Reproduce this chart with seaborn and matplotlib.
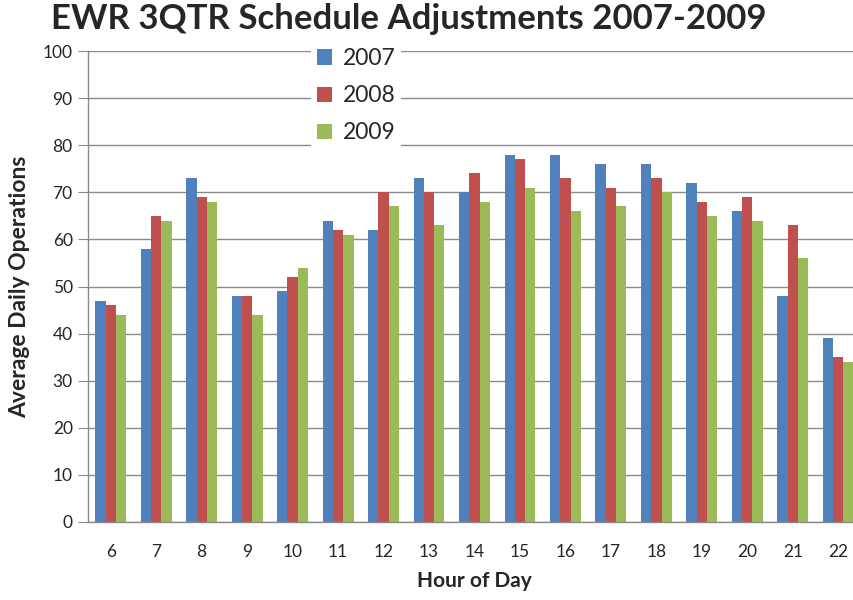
import pandas as pd
import matplotlib.pyplot as plt
import seaborn as sns

# data
hours = [6, 7, 8, 9, 10, 11, 12, 13, 14, 15, 16, 17, 18, 19, 20, 21, 22]
ops_2007 = [47, 58, 73, 48, 49, 64, 62, 73, 70, 78, 78, 76, 76, 72, 66, 48, 39]
ops_2008 = [46, 65, 69, 48, 52, 62, 70, 70, 74, 77, 73, 71, 73, 68, 69, 63, 35]
ops_2009 = [44, 64, 68, 44, 54, 61, 67, 63, 68, 71, 66, 67, 70, 65, 64, 56, 34]
years = ["2007", "2008", "2009"]
colors = ["#4F81BD", "#C0504D", "#9BBB59"]

rows = []
for year, vals in zip(years, [ops_2007, ops_2008, ops_2009]):
    for h, v in zip(hours, vals):
        rows.append({"hour": str(h), "year": year, "ops": v})
df = pd.DataFrame(rows)

sns.set_style("white")
plt.rcParams['font.family'] = ['Lato', 'DejaVu Sans']

fig = plt.figure(figsize=(8.54, 6), dpi=100)
ax = fig.add_axes([88 / 854, 78 / 600, (861 - 88) / 854, (522 - 51) / 600])

sns.barplot(data=df, x="hour", y="ops", hue="year", palette=colors,
            width=0.68, gap=0, saturation=1, edgecolor="none", ax=ax)

ax.set_ylim(0, 100)
ax.set_yticks(range(0, 101, 10))
ax.set_xlim(-0.5, len(hours) - 0.5)
ax.yaxis.grid(True, color="#8a8a8a", linewidth=1)
ax.set_axisbelow(True)
for side in ["top", "right"]:
    ax.spines[side].set_visible(False)
for side in ["left", "bottom"]:
    ax.spines[side].set_color("#8a8a8a")
    ax.spines[side].set_linewidth(1)
ax.tick_params(axis="y", length=7, color="#8a8a8a", labelsize=12.5, pad=4, direction="out", left=True)
ax.tick_params(axis="x", length=0, labelsize=12.5, pad=16)

ax.set_xlabel("Hour of Day", fontsize=15, fontweight="bold", labelpad=8)
ax.set_ylabel("Average Daily Operations", fontsize=16.5, fontweight="bold", labelpad=9)

fig.text(409 / 854, 1 - 19 / 600, "EWR 3QTR Schedule Adjustments 2007-2009",
         ha="center", va="center", fontsize=25, fontweight="bold")

leg = ax.legend(loc="upper left", bbox_to_anchor=(300 / 854, 1 - 31 / 600),
                bbox_transform=fig.transFigure, fontsize=16.5, frameon=True,
                facecolor="white", edgecolor="none", framealpha=1, fancybox=False,
                handlelength=0.65, handleheight=0.65, handletextpad=0.45,
                labelspacing=0.7, borderpad=0.25, title=None)

fig.savefig("out.png", dpi=100)
